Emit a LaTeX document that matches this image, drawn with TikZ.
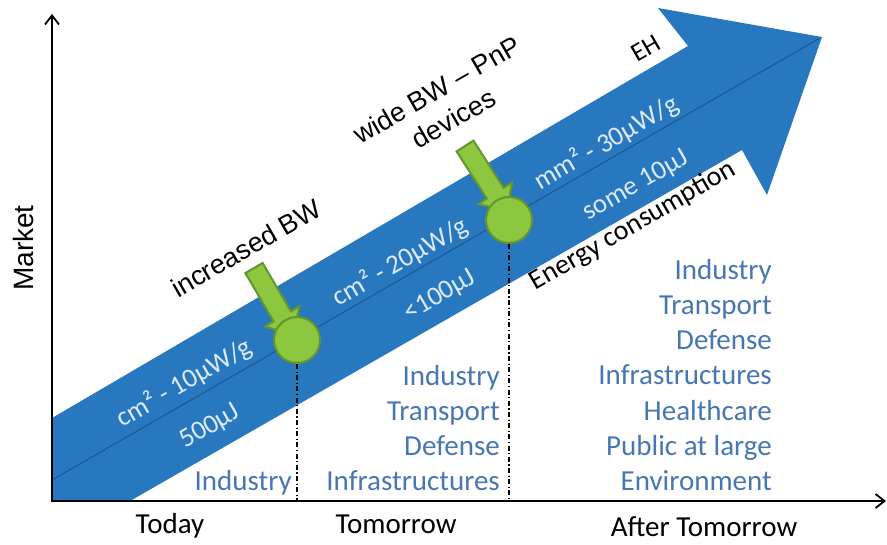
\documentclass[tikz,border=0pt]{standalone}
\usepackage{fontspec}
\setmainfont{Carlito}
\newfontfamily\arialfont{Liberation Sans}
\usetikzlibrary{arrows.meta}
\definecolor{bandblue}{RGB}{40,120,192}
\definecolor{bandline}{RGB}{28,78,135}
\definecolor{bandtext}{RGB}{222,234,247}
\definecolor{listblue}{RGB}{72,118,178}
\definecolor{gfill}{RGB}{141,198,63}
\definecolor{gdraw}{RGB}{100,150,45}
\begin{document}
\begin{tikzpicture}[x=1pt,y=-1pt,
  lst/.style={text=listblue, font=\fontsize{29}{35}\selectfont, anchor=base east, inner sep=0pt},
  axlabel/.style={font=\fontsize{29}{35}\selectfont, anchor=base, inner sep=0pt},
  bandlbl/.style={text=bandtext, font=\fontsize{27}{31}\selectfont, rotate=30, inner sep=0pt},
  blacklbl/.style={font=\arialfont\fontsize{27}{33}\selectfont, rotate=30, align=center, inner sep=0pt},
  calilbl/.style={font=\fontsize{28}{33}\selectfont, rotate=30, inner sep=0pt},
  greenarrow/.style={fill=gfill, draw=gdraw, line width=2pt, line join=miter},
  dot/.style={circle, minimum size=46pt, inner sep=0pt, fill=gfill, draw=gdraw, line width=2pt},
  dashdot/.style={line width=1.4pt, dash pattern=on 5pt off 2.5pt on 1.2pt off 2.5pt},
  axisline/.style={line width=1.8pt, {Straight Barb[length=9pt,width=14pt]}-{Straight Barb[length=9pt,width=14pt]}}
]
\useasboundingbox (0,0) rectangle (887,544);
% band arrow
\fill[bandblue] (52,418) -- (688,46) -- (658,8) -- (822,37) -- (767,195) -- (742,150) -- (130,501) -- (52,501) -- cycle;
\coordinate (cl0) at (52,480);
\coordinate (cl1) at (820,38);
\draw[bandline, line width=0.8pt] (cl0) -- (cl1);
% axes
\coordinate (ytop) at (52,14);
\coordinate (O) at (52,501);
\coordinate (xend) at (886,501);
\draw[axisline] (ytop) -- (O) -- (xend);
% band labels
\node[bandlbl] (b1) at (184,383) {cm² - 10µW/g};
\node[bandlbl] (b2) at (210,427) {500µJ};
\node[bandlbl] (b3) at (400,262) {cm² - 20µW/g};
\node[bandlbl] (b4) at (440,296) {<100µJ};
\node[bandlbl] (b5) at (606,143) {mm² - 30µW/g};
\node[bandlbl] (b6) at (636,186) {some 10µJ};
% black labels
\node[blacklbl] (incbw) at (246,248) {increased BW};
\node[blacklbl] (widebw) at (445,104) {wide BW – PnP\\devices};
\node[calilbl, font=\fontsize{26}{30}\selectfont] (eh) at (646,48) {EH};
\node[calilbl] (energy) at (633,226) {Energy consumption};
% green arrows
\draw[greenarrow, shift={(254,268)}, rotate=-59.7] (0,-10) -- (56,-10) -- (56,-20) -- (78,0) -- (56,20) -- (56,10) -- (0,10) -- cycle;
\draw[greenarrow, shift={(465,146)}, rotate=-57.3] (0,-10) -- (56,-10) -- (56,-20) -- (78,0) -- (56,20) -- (56,10) -- (0,10) -- cycle;
\node[dot] (c1) at (297,340) {};
\node[dot] (c2) at (509,220) {};
\coordinate (d1) at (297,500);
\coordinate (d2) at (509,500);
\draw[dashdot] (c1.south) -- (d1);
\draw[dashdot] (c2.south) -- (d2);
% lists
\node[lst] (l1a) at (292,490.5) {Industry};
\node[lst] (l2a) at (500,385.5) {Industry};
\node[lst] (l2b) at (500,420.5) {Transport};
\node[lst] (l2c) at (500,455.5) {Defense};
\node[lst] (l2d) at (500,490.5) {Infrastructures};
\node[lst] (l3a) at (772,279) {Industry};
\node[lst] (l3b) at (772,314.3) {Transport};
\node[lst] (l3c) at (772,349.6) {Defense};
\node[lst] (l3d) at (772,384.9) {Infrastructures};
\node[lst] (l3e) at (772,420.2) {Healthcare};
\node[lst] (l3f) at (772,455.5) {Public at large};
\node[lst] (l3g) at (772,490.8) {Environment};
% axis labels
\node[axlabel] (today) at (170,533) {Today};
\node[axlabel] (tomorrow) at (396,533) {Tomorrow};
\node[axlabel] (after) at (704,536) {After Tomorrow};
\node[font=\arialfont\fontsize{28}{33}\selectfont, rotate=90, inner sep=0pt] (market) at (23,248) {Market};
\end{tikzpicture}
\end{document}
